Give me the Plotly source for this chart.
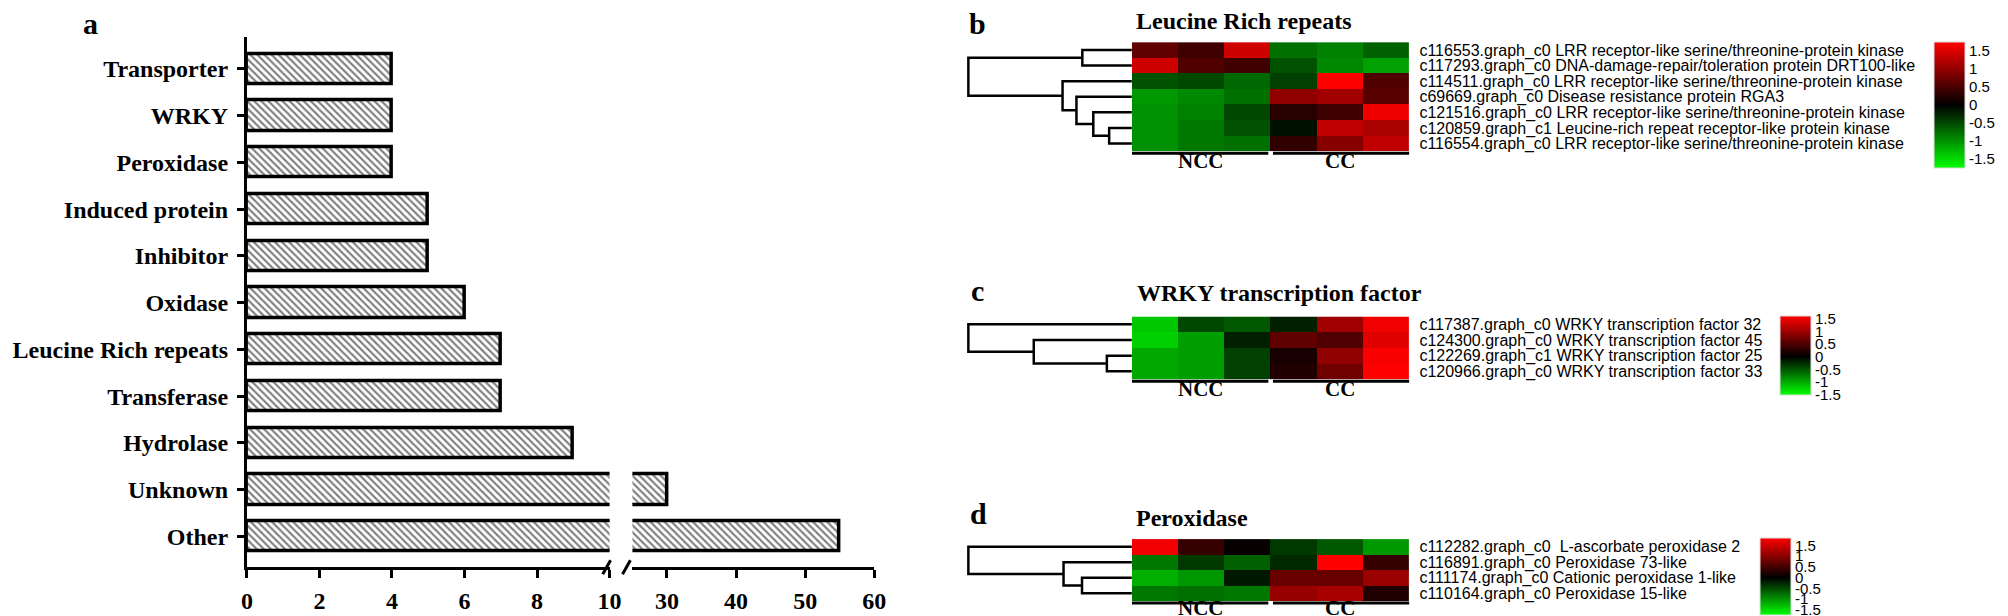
import plotly.graph_objects as go

W, H = 2008, 616

# ---------------- data: panel a ----------------
categories = ["Transporter", "WRKY", "Peroxidase", "Induced protein", "Inhibitor",
              "Oxidase", "Leucine Rich repeats", "Transferase", "Hydrolase", "Unknown", "Other"]
counts = [4, 4, 4, 5, 5, 6, 7, 7, 9, 30, 55]
low_ticks = [0, 2, 4, 6, 8, 10]
high_ticks = [30, 40, 50, 60]

# ---------------- data: heatmaps ----------------
samples = ["NCC1", "NCC2", "NCC3", "CC1", "CC2", "CC3"]
groups = ["NCC", "CC"]

lrr_labels = [
    "c116553.graph_c0 LRR receptor-like serine/threonine-protein kinase",
    "c117293.graph_c0 DNA-damage-repair/toleration protein DRT100-like",
    "c114511.graph_c0 LRR receptor-like serine/threonine-protein kinase",
    "c69669.graph_c0 Disease resistance protein RGA3",
    "c121516.graph_c0 LRR receptor-like serine/threonine-protein kinase",
    "c120859.graph_c1 Leucine-rich repeat receptor-like protein kinase",
    "c116554.graph_c0 LRR receptor-like serine/threonine-protein kinase",
]
lrr_values = [
    [0.67, 0.44, 1.44, -0.78, -0.89, -0.67],
    [1.44, 0.56, 0.44, -0.56, -0.94, -1.11],
    [-0.56, -0.50, -0.72, -0.44, 1.77, 0.56],
    [-1.05, -0.94, -0.78, 1.00, 1.11, 0.61],
    [-1.00, -0.89, -0.50, 0.28, 0.44, 1.66],
    [-1.00, -0.83, -0.56, -0.11, 1.33, 1.17],
    [-1.00, -0.83, -0.78, 0.33, 0.94, 1.33],
]
lrr_merges = [(5, 6, 0.139), (4, 7, 0.236), (3, 8, 0.339), (2, 9, 0.424), (0, 1, 0.303), (11, 10, 1.0)]
lrr_zrange = (-1.76, 1.77)

wrky_labels = [
    "c117387.graph_c0 WRKY transcription factor 32",
    "c124300.graph_c0 WRKY transcription factor 45",
    "c122269.graph_c1 WRKY transcription factor 25",
    "c120966.graph_c0 WRKY transcription factor 33",
]
wrky_values = [
    [-1.19, -0.43, -0.52, -0.19, 1.00, 1.50],
    [-1.24, -0.95, -0.19, 0.60, 0.50, 1.40],
    [-1.00, -0.95, -0.38, 0.15, 0.90, 1.55],
    [-1.00, -0.95, -0.38, 0.20, 0.70, 1.59],
]
wrky_merges = [(2, 3, 0.153), (1, 4, 0.60), (0, 5, 1.0)]
wrky_zrange = (-1.52, 1.59)

pod_labels = [
    "c112282.graph_c0  L-ascorbate peroxidase 2",
    "c116891.graph_c0 Peroxidase 73-like",
    "c111174.graph_c0 Cationic peroxidase 1-like",
    "c110164.graph_c0 Peroxidase 15-like",
]
pod_values = [
    [1.73, 0.40, 0.04, -0.39, -0.61, -1.05],
    [-0.83, -0.39, -0.66, -0.28, 1.84, 0.40],
    [-1.21, -1.05, -0.17, 0.75, 0.75, 1.11],
    [-0.83, -0.77, -0.83, 1.10, 1.21, 0.23],
]
pod_merges = [(2, 3, 0.305), (1, 4, 0.418), (0, 5, 1.0)]
pod_zrange = (-1.76, 1.84)

cbar_ticks = [1.5, 1, 0.5, 0, -0.5, -1, -1.5]
cbar_text = ["1.5", "1", "0.5", "0", "-0.5", "-1", "-1.5"]

SERIF = "Liberation Serif"
SANS = "Liberation Sans"


def px_x(p):
    return p / W


def px_y(p):
    return 1 - p / H


def dendro(n, merges):
    pos = {i: (float(i), 0.0) for i in range(n)}
    xs, ys = [], []
    for k, (a, b, h) in enumerate(merges):
        ya, ha = pos[a]
        yb, hb = pos[b]
        xs += [ha, h, h, hb, None]
        ys += [ya, ya, yb, yb, None]
        pos[n + k] = ((ya + yb) / 2, h)
    return xs, ys


def cscale(zmin, zmax):
    mid = -zmin / (zmax - zmin)
    return [[0, "#00ff00"], [mid, "#000000"], [1, "#ff0000"]]


fig = go.Figure()

# ---------------- panel a: broken-axis hatched bars ----------------
bar_style = dict(
    color="white",
    line=dict(color="black", width=3.5),
    pattern=dict(shape="\\", fgcolor="black", bgcolor="white", size=5, solidity=0.42),
)
for xa in ["x", "x2"]:
    fig.add_trace(go.Bar(
        x=counts, y=categories, orientation="h", width=0.65,
        marker=bar_style, xaxis=xa, yaxis="y", showlegend=False, hoverinfo="skip",
    ))

ydom_a = [px_y(561), px_y(28.3)]
axis_common = dict(showgrid=False, zeroline=False, showline=True, linecolor="black",
                   linewidth=3, ticks="outside", tickwidth=3, ticklen=8, tickcolor="black",
                   ticklabelstandoff=2,
                   tickfont=dict(family=SERIF, size=24, color="black", weight="bold"))
fig.update_layout(
    xaxis=dict(domain=[px_x(235), px_x(601)], range=[0, 10], tickmode="array",
               tickvals=low_ticks, anchor="y", **axis_common),
    xaxis2=dict(domain=[px_x(624), px_x(868)], range=[25, 60], tickmode="array",
                tickvals=high_ticks, anchor="y", **axis_common),
    yaxis=dict(domain=ydom_a, range=[-0.66, 10.68], type="category",
               categoryorder="array", categoryarray=categories[::-1], anchor="x",
               showgrid=False, zeroline=False, showline=True, linecolor="black", linewidth=3,
               ticks="outside", tickwidth=3, ticklen=7, tickcolor="black", ticklabelstandoff=4,
               tickfont=dict(family=SERIF, size=24, color="black", weight="bold")),
)

shapes = []
# axis-break slashes
for x0 in (594, 614):
    shapes.append(dict(type="line", xref="paper", yref="paper",
                       x0=px_x(x0), y0=px_y(568), x1=px_x(x0 + 8), y1=px_y(554),
                       line=dict(color="black", width=3)))

# ---------------- heatmaps ----------------
# labels, values, merges, zrange, (top px, bottom px), axis ids, colorbar, group-label offset
panels = [
    (lrr_labels, lrr_values, lrr_merges, lrr_zrange, (33.3, 143), (3, 4), (1937, 96, 126), 10),
    (wrky_labels, wrky_values, wrky_merges, wrky_zrange, (309, 372), (5, 6), (1782, 348.5, 79), 10),
    (pod_labels, pod_values, pod_merges, pod_zrange, (532.7, 595), (7, 8), (1762, 570.5, 77), 7),
]

hm_x0, hm_x1 = 1128, 1408
den_x0 = 1128 - 165 * 1.012

for labels, vals, merges, (zmin, zmax), (top, bot), (ha, da), (cbx, cby, cbl), _ in panels:
    n = len(labels)
    fig.add_trace(go.Heatmap(
        z=vals, x=list(range(len(samples))), y=list(range(n)),
        zmin=zmin, zmax=zmax, colorscale=cscale(zmin, zmax),
        xaxis=f"x{ha}", yaxis=f"y{ha}", hoverinfo="skip",
        colorbar=dict(
            x=px_x(cbx), xanchor="left", xpad=0, y=px_y(cby), yanchor="middle", ypad=0,
            len=cbl, lenmode="pixels", thickness=31, thicknessmode="pixels",
            outlinewidth=1, outlinecolor="#dddddd",
            tickmode="array", tickvals=cbar_ticks, ticktext=cbar_text, ticks="",
            tickfont=dict(family=SANS, size=15, color="black"),
        ),
    ))
    dx, dy = dendro(n, merges)
    fig.add_trace(go.Scatter(
        x=dx, y=dy, mode="lines", line=dict(color="black", width=2.5),
        xaxis=f"x{da}", yaxis=f"y{ha}", hoverinfo="skip", showlegend=False,
    ))
    fig.layout[f"xaxis{ha}"] = dict(domain=[px_x(hm_x0), px_x(hm_x1)], range=[-0.5, 5.5],
                                   visible=False, anchor=f"y{ha}")
    fig.layout[f"xaxis{da}"] = dict(domain=[px_x(den_x0), px_x(hm_x0)], range=[1.012, 0],
                                   visible=False, anchor=f"y{ha}")
    fig.layout[f"yaxis{ha}"] = dict(
        domain=[px_y(bot), px_y(top)], range=[n - 0.5, -0.5], anchor=f"x{ha}", side="right",
        tickmode="array", tickvals=list(range(n)), ticktext=labels, ticks="",
        showline=False, showgrid=False, zeroline=False, ticklabelstandoff=9,
        tickfont=dict(family=SANS, size=16, color="black"),
    )
    for g, (c0, c1) in zip(groups, [(-0.5, 2.45), (2.55, 5.5)]):
        shapes.append(dict(type="line", xref=f"x{ha}", yref="paper",
                           x0=c0, x1=c1, y0=px_y(bot + 2), y1=px_y(bot + 2),
                           line=dict(color="black", width=3)))

annotations = []


def ann(text, xpx, ypx, size, anchor="center"):
    annotations.append(dict(text=text, x=px_x(xpx), y=px_y(ypx), xref="paper", yref="paper",
                            xanchor=anchor, yanchor="middle", showarrow=False,
                            font=dict(family=SERIF, size=size, color="black", weight="bold")))


ann("a", 77, 15, 30)
ann("b", 972, 15, 30)
ann("c", 972, 283, 30)
ann("d", 973, 507, 30)
ann("Leucine Rich repeats", 1130, 12, 24, "left")
ann("WRKY transcription factor", 1131, 285, 24, "left")
ann("Peroxidase", 1130, 511, 24, "left")
for _, _, _, _, (top, bot), (ha, da), _, off in panels:
    for g, xc in zip(groups, [1, 4]):
        annotations.append(dict(text=g, x=xc, xref=f"x{ha}", y=px_y(bot + off), yref="paper",
                                xanchor="center", yanchor="middle", showarrow=False,
                                font=dict(family=SERIF, size=21, color="black", weight="bold")))

fig.update_layout(
    width=W, height=H, margin=dict(l=0, r=0, t=0, b=0),
    paper_bgcolor="white", plot_bgcolor="white",
    shapes=shapes, annotations=annotations, showlegend=False, bargap=0,
)

fig.write_html("out.html")
